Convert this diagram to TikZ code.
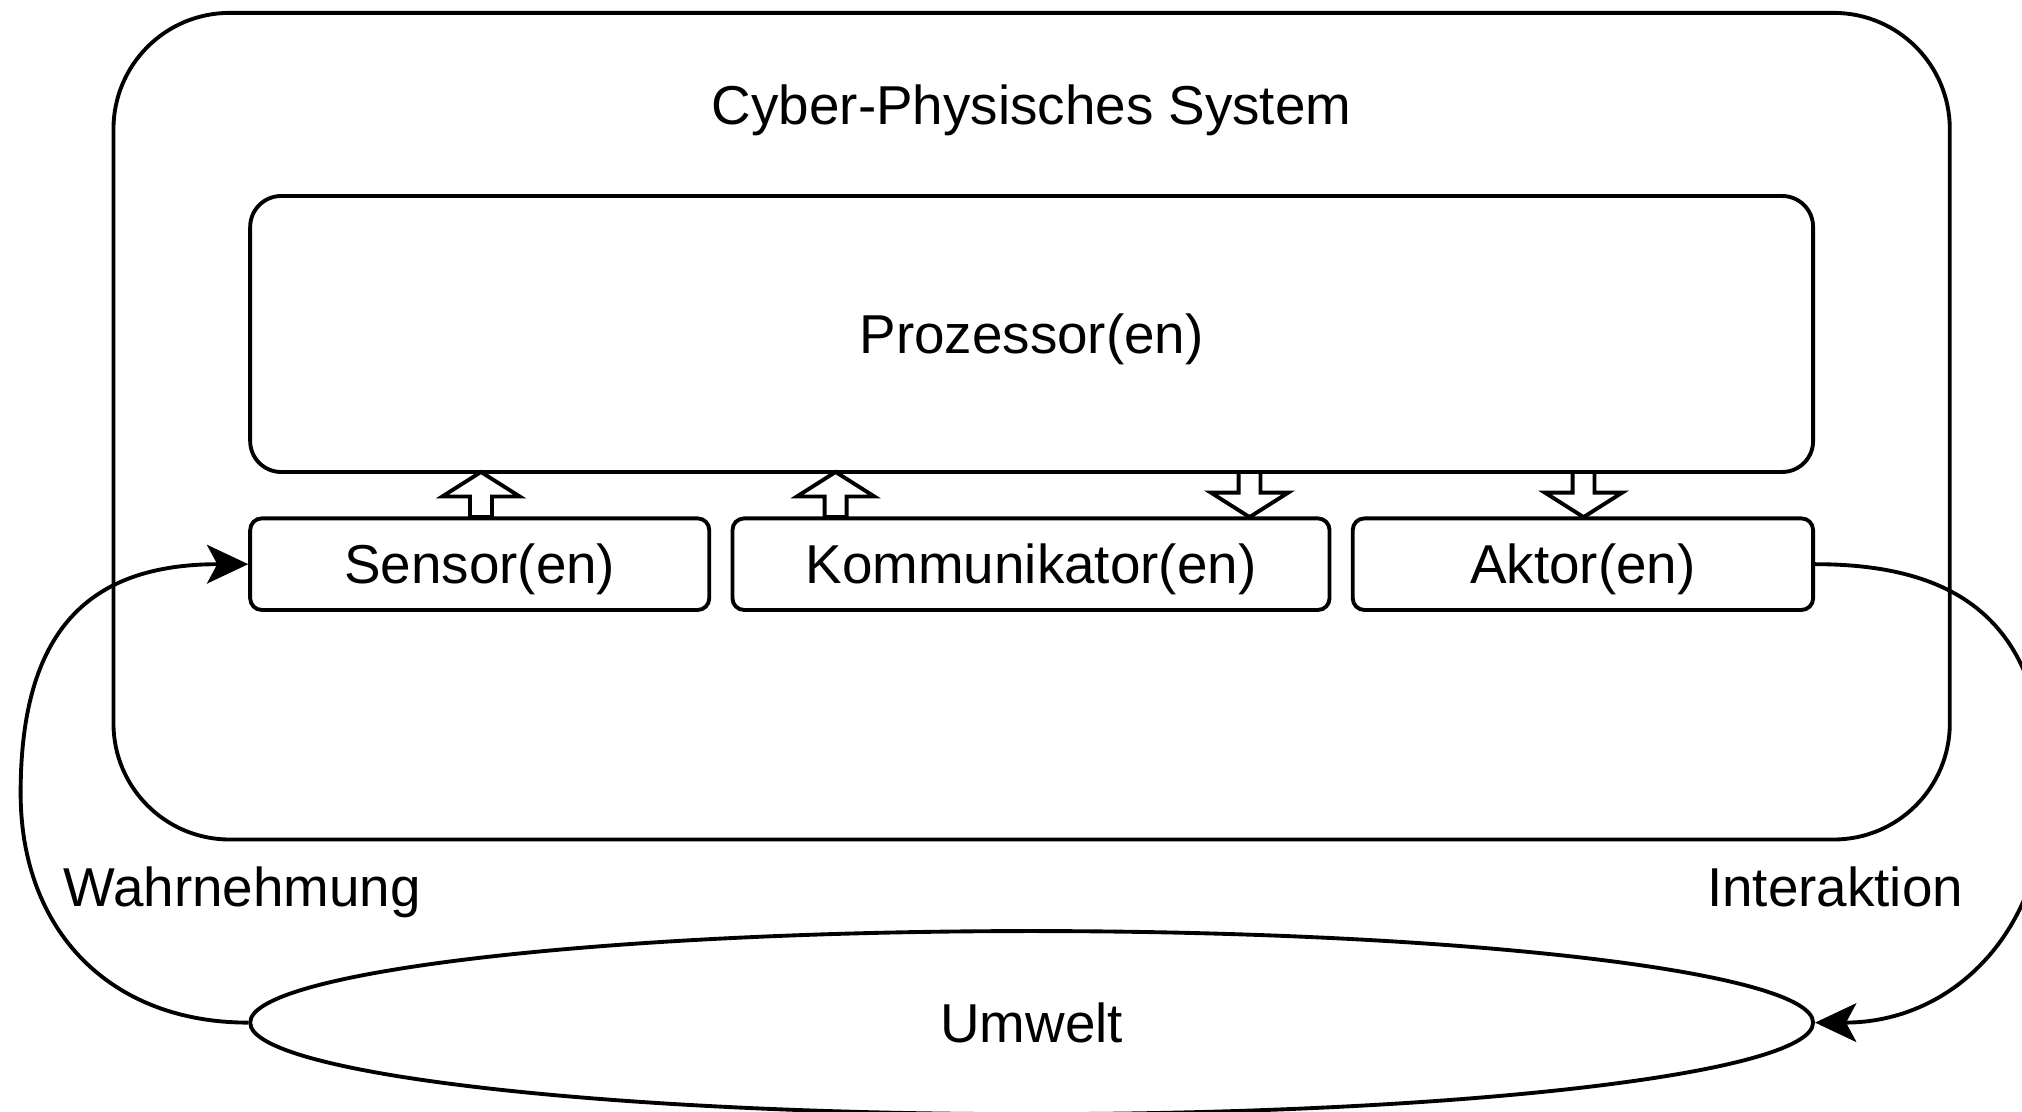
\documentclass[tikz,border=0pt]{standalone}
\usepackage{fontspec}
\setmainfont{Liberation Sans}
\usetikzlibrary{arrows.meta,shapes.geometric}

\tikzset{
  box/.style={draw, line width=3pt, rounded corners=9pt, inner sep=0pt,
    text height=30.5pt, text depth=0pt},
  lbl/.style={inner sep=0pt, text height=30.5pt, text depth=0pt},
  flow/.style={line width=3pt, -{Stealth[length=32pt,width=30pt,inset=8pt]}},
  hollow/.style={draw, fill=white, line width=3pt, line join=miter},
}

\begin{document}
\begin{tikzpicture}[x=1pt, y=-1pt, font=\fontsize{42.5}{51}\selectfont]
  \useasboundingbox (0,0) rectangle (1568,862);
  % system frame
  \node[box, rounded corners=90pt, minimum width=1424pt, minimum height=641pt] (cps) at (800,330.5) {};
  \node[lbl] (title) at (800,81) {Cyber-Physisches System};
  % inner parts
  \node[box, rounded corners=24pt, minimum width=1212pt, minimum height=214pt] (proc) at (800,259) {Prozessor(en)};
  \node[box, minimum width=356pt, minimum height=71pt] (sensor) at (372,437.5) {Sensor(en)};
  \node[box, minimum width=463pt, minimum height=71pt] (komm) at (799.5,437.5) {Kommunikator(en)};
  \node[box, minimum width=357pt, minimum height=71pt] (aktor) at (1227.5,437.5) {Aktor(en)};
  % environment
  \node[draw, ellipse, line width=3pt, inner sep=0pt, text height=30.5pt, text depth=0pt,
    minimum width=1212pt, minimum height=142pt] (umwelt) at (800,793) {Umwelt};
  \node[lbl, anchor=west] (wahr) at (49,687.5) {Wahrnehmung};
  \node[lbl] (inter) at (1423,687.5) {Interaktion};
  % data flow to and from the processor
  \foreach \x in {373,648}
    \draw[hollow] (\x,366) -- ++(30,19) -- ++(-21.5,0) -- ++(0,16) -- ++(-17,0) -- ++(0,-16) -- ++(-21.5,0) -- cycle;
  \foreach \x in {969,1228}
    \draw[hollow] (\x,401) -- ++(30,-19) -- ++(-21.5,0) -- ++(0,-16) -- ++(-17,0) -- ++(0,16) -- ++(-21.5,0) -- cycle;
  % loop through the environment
  \coordinate (wl) at (16,615);
  \coordinate (wr) at (1586,615);
  \draw[flow] (umwelt.west) .. controls +(-107,0) and +(0,107) .. (wl)
    .. controls +(0,-125) and +(-125,0) .. (sensor.west);
  \draw[flow] (aktor.east) .. controls +(120,0) and +(0,-125) .. (wr)
    .. controls +(0,107) and +(107,0) .. (umwelt.east);
\end{tikzpicture}
\end{document}
